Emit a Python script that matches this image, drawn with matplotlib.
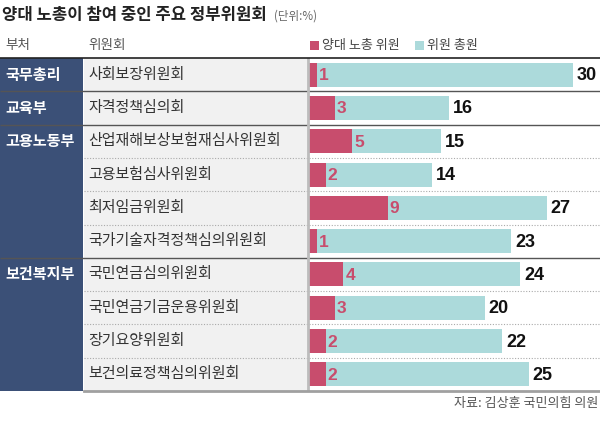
import matplotlib.pyplot as plt
import matplotlib.transforms as mtransforms
from matplotlib.patches import Rectangle

plt.rcParams['font.family'] = ['Noto Sans CJK KR', 'DejaVu Sans']

departments = ['국무총리', '교육부', '고용노동부', '보건복지부']
dept_sizes = [1, 1, 4, 4]
committees = ['사회보장위원회', '자격정책심의회', '산업재해보상보험재심사위원회',
              '고용보험심사위원회', '최저임금위원회', '국가기술자격정책심의위원회',
              '국민연금심의위원회', '국민연금기금운용위원회', '장기요양위원회',
              '보건의료정책심의위원회']
union_members = [1, 3, 5, 2, 9, 1, 4, 3, 2, 2]
total_members = [30, 16, 15, 14, 27, 23, 24, 20, 22, 25]

W, H = 600, 442
RED = '#c84d6d'
TEAL = '#acdadb'
NAVY = '#3b5077'
K = 265 / 30  # pixels per unit

fig = plt.figure(figsize=(6, 4.42), dpi=100)

def fx(px):
    return px / W

def fy(py):
    return 1 - py / H

ax = fig.add_axes([0, fy(391), 1, (391 - 58) / H])
n = len(committees)
ax.set_xlim(-308 / K, 292 / K)
ax.set_ylim(n - 0.5, -0.5)
ax.axis('off')
blend = mtransforms.blended_transform_factory(ax.transAxes, ax.transData)

# label column background and navy department column
ax.add_patch(Rectangle((fx(84), -0.5), fx(308 - 84), n, transform=blend,
                       facecolor='#f1f1f1', edgecolor='none', zorder=0))
start = 0
for dept, size in zip(departments, dept_sizes):
    ax.add_patch(Rectangle((0, start - 0.5), fx(83), size, transform=blend,
                           facecolor=NAVY, edgecolor='none', zorder=0))
    ax.text(fx(5), start, dept, transform=blend, color='white', fontsize=10.9,
            fontweight='bold', va='center', ha='left')
    for k in range(1, size):
        ax.hlines(start + k - 0.5, fx(84), 1, transform=blend, colors='#aaaaaa',
                  linestyles=(0, (1, 1.5)), linewidth=0.8, zorder=1)
    start += size
    if start < n:
        ax.hlines(start - 0.5, 0, 1, transform=blend, colors='#555555',
                  linewidth=1.0, zorder=1)

ys = list(range(n))
ax.barh(ys, total_members, height=0.72, color=TEAL, zorder=2)
ax.barh(ys, union_members, height=0.72, color=RED, zorder=3)
ax.axvline(0, color='#bcbcbc', linewidth=2, zorder=4)

for y, name, u, t in zip(ys, committees, union_members, total_members):
    ax.text(fx(88), y, name, transform=blend, fontsize=10.8, color='#333333',
            va='center', ha='left')
    ax.text(u + 0.25, y + 0.03, str(u), fontsize=12.5, color=RED,
            family='Liberation Sans', fontweight='bold', va='center', ha='left', zorder=5)
    ax.text(t + 0.45, y + 0.03, str(t), fontsize=13, color='#111111',
            family='Liberation Sans', fontweight='bold', va='center', ha='left', zorder=5)

# top and bottom rules
fig.add_artist(plt.Line2D([0, 1], [fy(58), fy(58)], color='#222222', linewidth=1.2))
fig.add_artist(plt.Line2D([fx(84), 1], [fy(391), fy(391)], color='#a0a0a0', linewidth=2))

# title and header
fig.text(fx(2), fy(15), '양대 노총이 참여 중인 주요 정부위원회', fontsize=12.0,
         fontweight='bold', color='#222222', va='center', ha='left')
fig.text(fx(274), fy(16), '(단위:%)', fontsize=8.3, color='#666666', va='center', ha='left')
fig.text(fx(5), fy(45), '부처', fontsize=9.8, color='#555555', va='center', ha='left')
fig.text(fx(88), fy(45), '위원회', fontsize=9.8, color='#555555', va='center', ha='left')
fig.add_artist(Rectangle((fx(310), fy(50)), fx(9), 9 / H, facecolor=RED, edgecolor='none'))
fig.text(fx(322), fy(45), '양대 노총 위원', fontsize=9.4, color='#444444', va='center', ha='left')
fig.add_artist(Rectangle((fx(415), fy(50)), fx(9), 9 / H, facecolor=TEAL, edgecolor='none'))
fig.text(fx(427), fy(45), '위원 총원', fontsize=9.4, color='#444444', va='center', ha='left')

fig.text(fx(598), fy(404), '자료: 김상훈 국민의힘 의원', fontsize=9.4, color='#555555',
         va='center', ha='right')

fig.savefig('out.png', dpi=100)
